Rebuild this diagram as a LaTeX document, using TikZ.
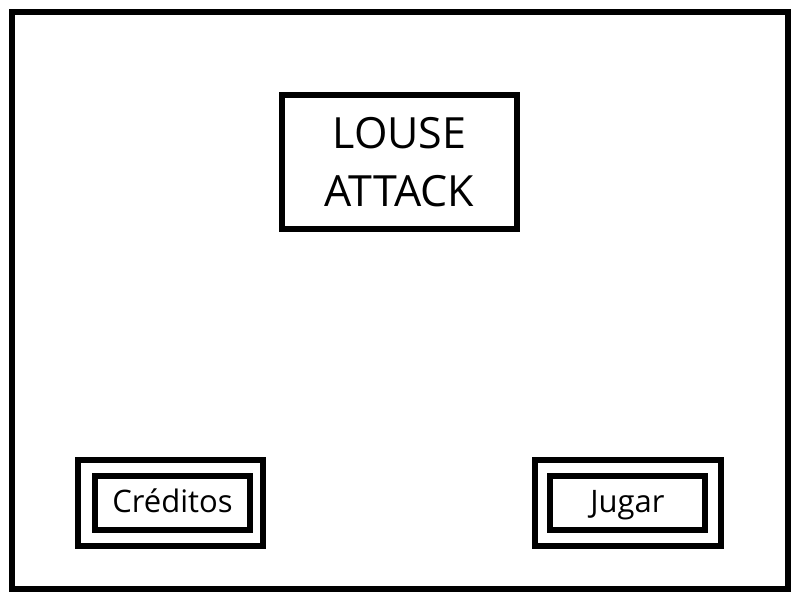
\documentclass[tikz,border=0pt]{standalone}
\usepackage{fontspec}
\setmainfont{Open Sans}
\usetikzlibrary{positioning}

\begin{document}
\begin{tikzpicture}[x=1pt,y=-1pt]
        \tikzstyle{frame} = [rectangle, draw, line width=6pt, inner sep=0pt, outer sep=0pt]
        \tikzstyle{button} = [frame, minimum height=54.5pt, text height=20pt, text depth=0pt, font=\fontsize{31}{37}\selectfont]

        \useasboundingbox (0,0) rectangle (800,600);

        \node[frame, minimum width=776pt, minimum height=576.5pt] (screen) at (400,300.25) {};
        \node[frame, minimum width=235pt, minimum height=134pt, align=center,
              font=\fontsize{43}{58}\selectfont] (title) at (399.5,162) {LOUSE\\ATTACK};

        \node[frame, minimum width=184.5pt, minimum height=85.5pt] (credframe) at (170.25,502.75) {};
        \node[button, minimum width=155pt] (creditos) at (172.5,502.75) {Créditos};

        \node[frame, minimum width=186pt, minimum height=85.5pt] (playframe) at (627.5,502.75) {};
        \node[button, minimum width=155pt] (jugar) at (627.5,502.75) {Jugar};
      \end{tikzpicture}
\end{document}
